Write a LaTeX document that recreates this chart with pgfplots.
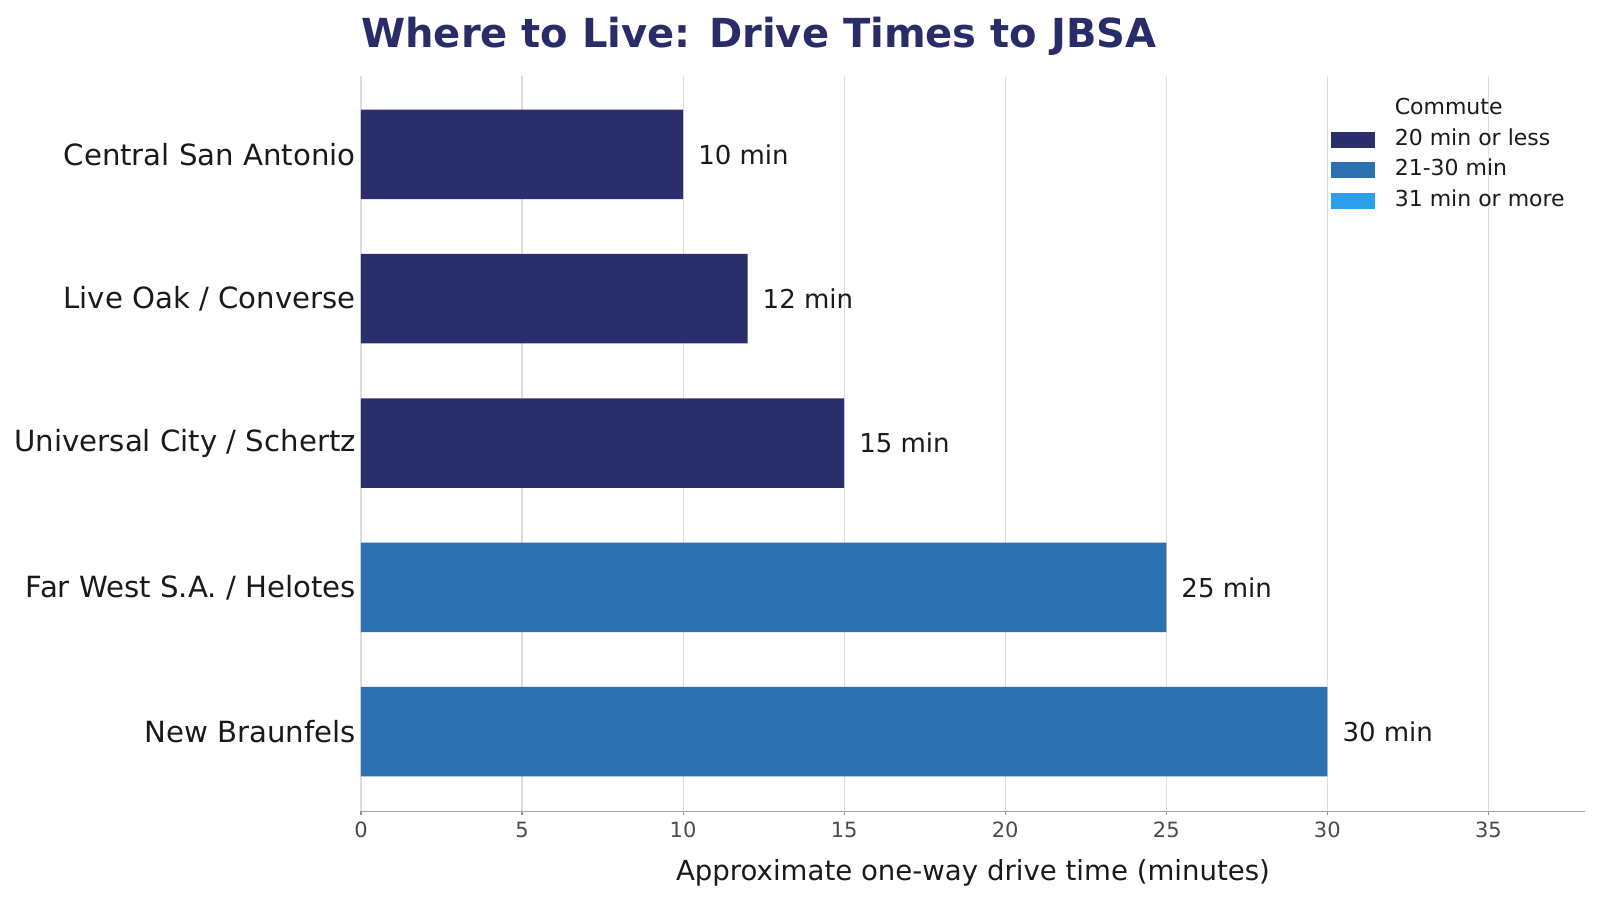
\documentclass[border=0pt]{standalone}
\usepackage{fontspec}
\setmainfont{DejaVu Sans}
\usepackage{pgfplots}
\pgfplotsset{compat=1.18}
\definecolor{navy}{HTML}{2A2F6B}
\definecolor{midblue}{HTML}{2C70B0}
\definecolor{lightblue}{HTML}{2E9FEA}
\definecolor{titlecol}{HTML}{282C68}
\definecolor{gridcol}{HTML}{DCDCE4}
\definecolor{tickcol}{HTML}{4A4A4A}
\definecolor{txt}{HTML}{1A1A1A}
\begin{document}
\begin{tikzpicture}
\path[use as bounding box] (-180.5pt,-44.5pt) rectangle (619.5pt,405.5pt);
\begin{axis}[
  at={(0,0)}, anchor=south west,
  scale only axis, width=612pt, height=367.25pt,
  xmin=0, xmax=38, ymin=-0.55, ymax=4.54,
  /pgf/number format/assume math mode=true,
  xbar, bar width=0.62, bar shift=0pt,
  axis x line*=bottom, axis y line*=left,
  x axis line style={draw=gray!70},
  y axis line style={draw=none},
  xtick={0,5,...,35},
  xmajorgrids, major grid style={draw=gridcol, line width=0.6pt},
  x tick style={draw=gray!85, line width=0.6pt},
  major tick length=2.2pt, tick align=outside,
  y tick style={draw=none},
  ytick={0,1,2,3,4},
  yticklabels={New Braunfels, Far West S.A. / Helotes, Universal City / Schertz, Live Oak / Converse, Central San Antonio},
  yticklabel style={font=\fontsize{14.6}{17}\selectfont, text=txt, anchor=east, inner sep=0pt, xshift=-0.2pt},
  xticklabel style={font=\fontsize{10.5}{12}\selectfont, text=tickcol, inner sep=0pt, yshift=-3pt},
  xlabel={Approximate one-way drive time (minutes)},
  xlabel style={font=\fontsize{13.8}{16}\selectfont, text=txt, at={(axis description cs:0.5,0)}, anchor=base, yshift=-34.5pt},
  point meta=x,
  nodes near coords={\pgfmathprintnumber{\pgfplotspointmeta}\ min},
  every node near coord/.append style={font=\fontsize{13}{15}\selectfont, text=txt, anchor=west, inner sep=0pt, xshift=7.4pt},
  legend cell align=left,
  legend image code/.code={\fill[#1] (0pt,-4pt) rectangle (22pt,4pt);},
  legend style={draw=none, fill=none, at={(axis description cs:0.7925,1)}, anchor=north west, yshift=-8.4pt,
    font=\fontsize{11}{13}\selectfont, text=txt, inner sep=0pt, column sep=9.7pt,
    nodes={inner xsep=0pt, inner ysep=2.4pt, text height=8pt, text depth=2.5pt}},
  clip=false,
]
\addlegendimage{empty legend}
\addlegendentry{Commute}
\addplot[fill=navy, draw=none] coordinates {(15,2) (12,3) (10,4)};
\addlegendentry{20 min or less}
\addplot[fill=midblue, draw=none] coordinates {(30,0) (25,1)};
\addlegendentry{21-30 min}
\addlegendimage{fill=lightblue, draw=none}
\addlegendentry{31 min or more}
\node[anchor=base west, font=\fontsize{20}{24}\selectfont\bfseries, text=titlecol, inner sep=0pt] at (rel axis cs:0,1) [yshift=14.25pt] {Where to Live: Drive Times to JBSA};
\end{axis}
\end{tikzpicture}
\end{document}
